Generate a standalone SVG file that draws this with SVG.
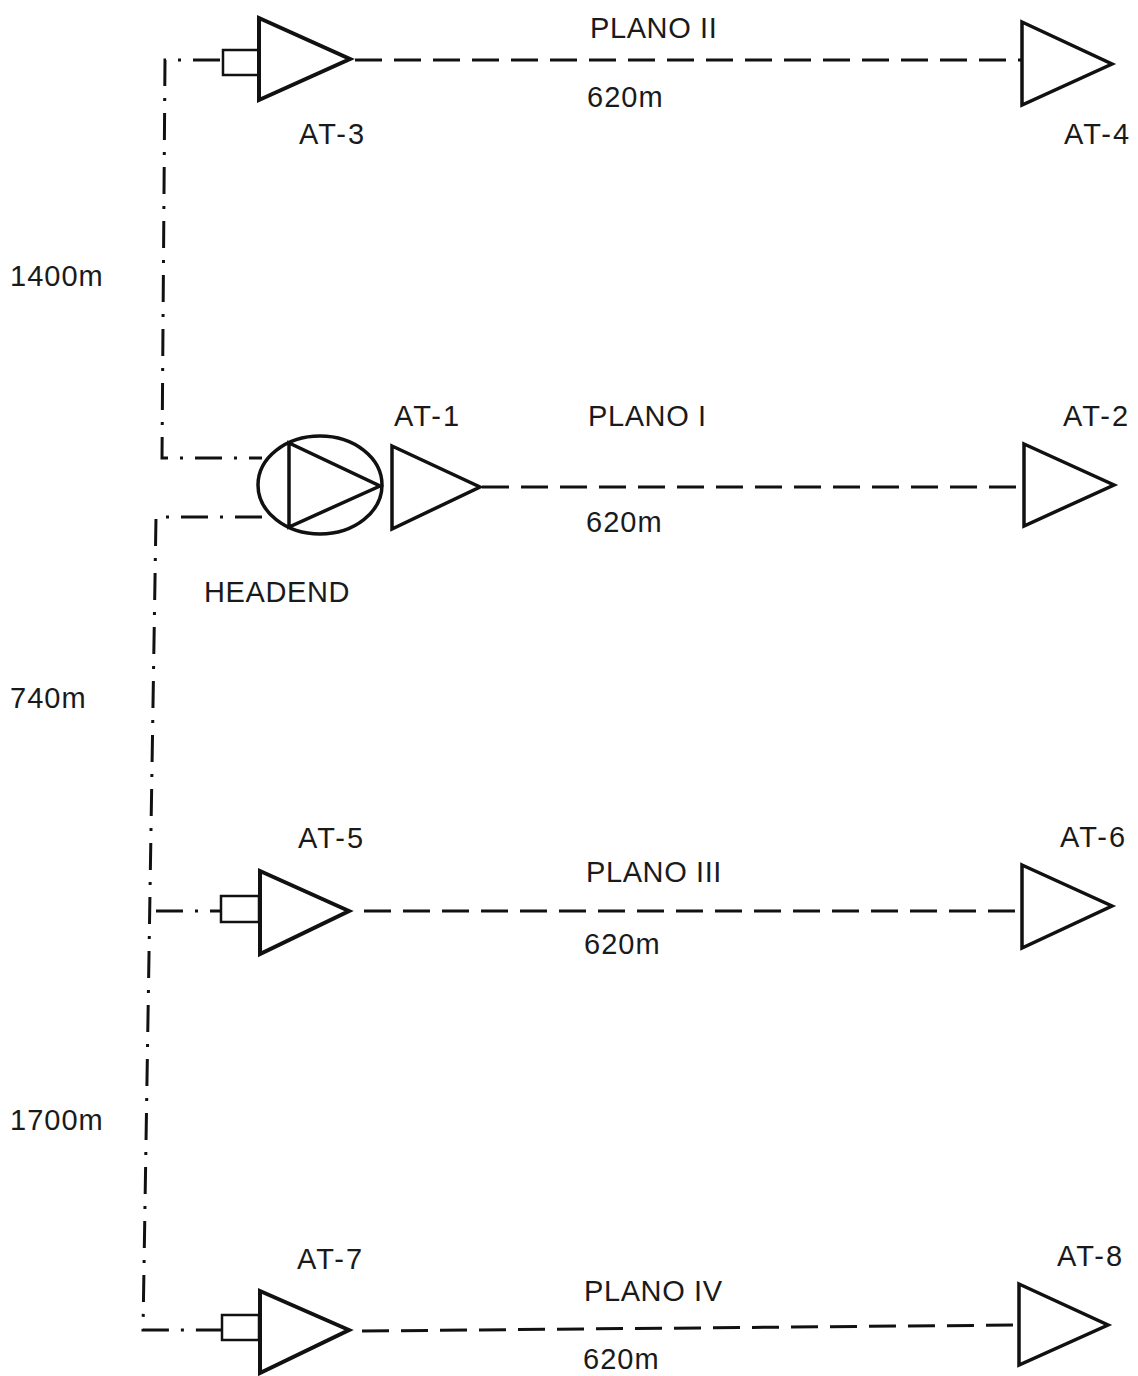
<svg xmlns="http://www.w3.org/2000/svg" width="1138" height="1376" viewBox="0 0 1138 1376">
<style>
text{font-family:"Liberation Sans",Arial,sans-serif;font-size:29px;letter-spacing:.6px;fill:#1a1a1a}
.at{letter-spacing:2px}
.num{letter-spacing:1px}
.tri{fill:#fff;stroke:#111;stroke-width:4;stroke-linejoin:miter}
.thin{stroke-width:3.5}
.box{fill:#fff;stroke:#111;stroke-width:2.5}
.dash{fill:none;stroke:#111;stroke-width:3;stroke-dasharray:27 12}
.dd{fill:none;stroke:#111;stroke-width:3;stroke-dasharray:27 12 3 12}
</style>
<rect width="1138" height="1376" fill="#fff"/>
<g id="connectors">
<path class="dd" d="M220 60H165L162 458H262"/>
<path class="dd" d="M262 517H156L143 1330H222"/>
<path class="dd" d="M156 911H222"/>
<path class="dash" d="M355 60H1021"/>
<path class="dash" d="M482 487H1024"/>
<path class="dash" d="M364 911H1021"/>
<path class="dash" d="M362 1331L1018 1325"/>
</g>
<g id="AT-3"><rect class="box" x="223" y="50" width="36" height="25"/><path class="tri" d="M259 18L350 59L259 100Z"/><text class="at" x="299" y="144">AT-3</text></g>
<g id="AT-4"><path class="tri thin" d="M1022 22L1112 64L1022 105Z"/><text class="at" x="1064" y="144">AT-4</text></g>
<g id="headend"><ellipse cx="320" cy="485" rx="62" ry="49" fill="#fff" stroke="#111" stroke-width="3.5"/><path fill="none" stroke="#111" stroke-width="3.5" d="M289 443V527L380 486Z"/><text x="204" y="602">HEADEND</text></g>
<g id="AT-1"><path class="tri thin" d="M392 446L480 487L392 529Z"/><text class="at" x="394" y="426">AT-1</text></g>
<g id="AT-2"><path class="tri thin" d="M1024 444L1114 485L1024 526Z"/><text class="at" x="1063" y="426">AT-2</text></g>
<g id="AT-5"><rect class="box" x="221" y="896" width="38" height="26"/><path class="tri" d="M260 871L349 911L260 954Z"/><text class="at" x="298" y="848">AT-5</text></g>
<g id="AT-6"><path class="tri thin" d="M1022 865L1112 906L1022 948Z"/><text class="at" x="1060" y="847">AT-6</text></g>
<g id="AT-7"><rect class="box" x="222" y="1315" width="37" height="25"/><path class="tri" d="M260 1291L349 1330L260 1373Z"/><text class="at" x="297" y="1269">AT-7</text></g>
<g id="AT-8"><path class="tri thin" d="M1019 1284L1108 1325L1019 1365Z"/><text class="at" x="1057" y="1266">AT-8</text></g>
<g id="labels">
<text x="590" y="38">PLANO II</text><text class="num" x="587" y="107">620m</text>
<text x="588" y="426">PLANO I</text><text class="num" x="586" y="532">620m</text>
<text x="586" y="882">PLANO III</text><text class="num" x="584" y="954">620m</text>
<text x="584" y="1301">PLANO IV</text><text class="num" x="583" y="1369">620m</text>
<text class="num" x="10" y="286">1400m</text><text class="num" x="10" y="708">740m</text><text class="num" x="10" y="1130">1700m</text>
</g>
</svg>
